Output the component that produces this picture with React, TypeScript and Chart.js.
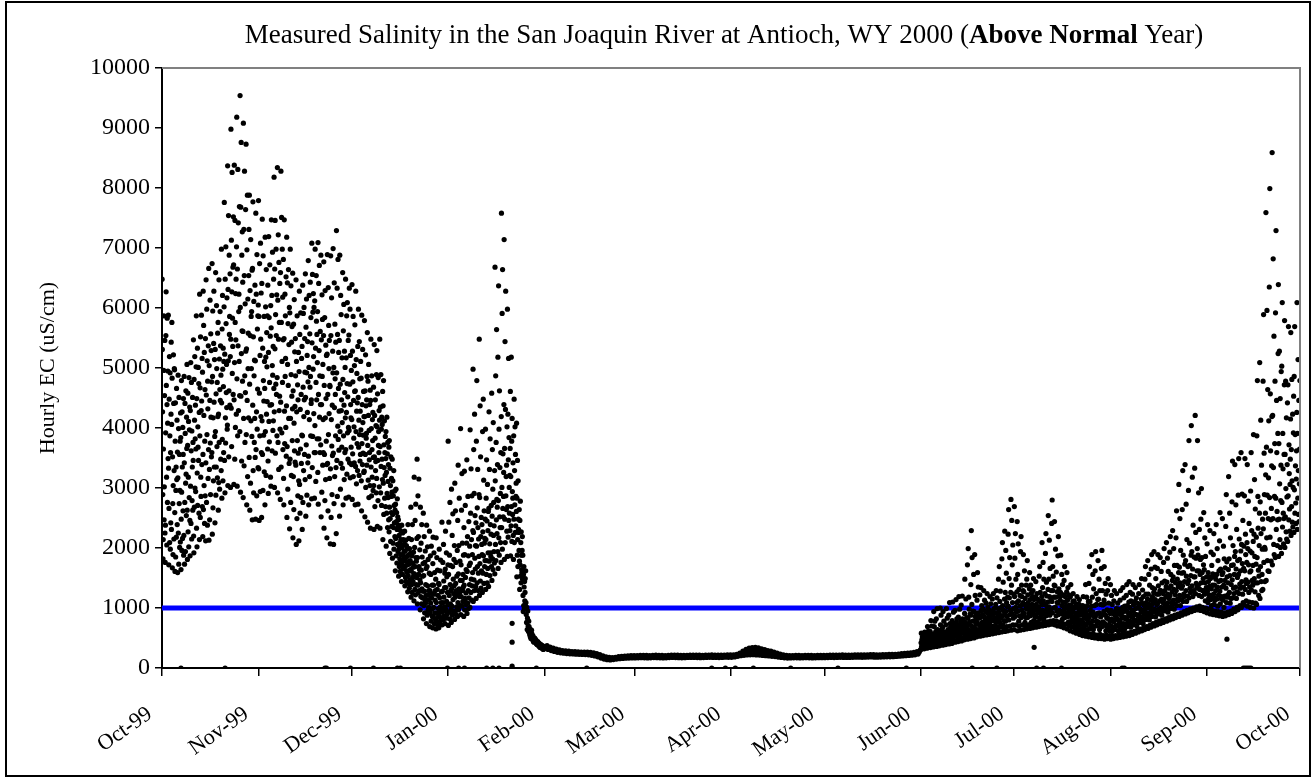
import React, { useEffect, useRef } from 'react';
import { Chart, registerables } from 'chart.js';

Chart.register(...registerables);

const FONT = "'Liberation Serif', 'Times New Roman', Times, serif";

const monthLabels = ['Oct-99', 'Nov-99', 'Dec-99', 'Jan-00', 'Feb-00', 'Mar-00', 'Apr-00', 'May-00', 'Jun-00', 'Jul-00', 'Aug-00', 'Sep-00', 'Oct-00'];
const monthLengths = [31, 30, 31, 31, 29, 31, 30, 31, 30, 31, 31, 30];

const titleStart = 'Measured Salinity in the San Joaquin River at Antioch, WY 2000 (';
const titleBold = 'Above Normal';
const titleEnd = ' Year)';
const yAxisTitle = 'Hourly EC (uS/cm)';
const yMax = 10000;
const yStep = 1000;
const standardEC = 1000;

// Readings per day (uS/cm), one inner array per day
const oct99 = [
  [6480, 5310, 4270, 2890, 1820, 2140, 3650, 4960, 5870, 2470, 3020, 4540, 5460, 2250],
  [1760, 2380, 3920, 5540, 6270, 4710, 3180, 2050, 4390, 5830, 2760, 4080, 4950, 3490],
  [5880, 3330, 1720, 2660, 4480, 5190, 2090, 3870, 4920, 1980, 3590, 2420, 4230, 5430],
  [2310, 4060, 5760, 4830, 1670, 3520, 2740, 1890, 3040, 5220, 4410, 2150, 3290, 4990],
  [4970, 2590, 1610, 3780, 4420, 1850, 2960, 3350, 2180, 4660, 3140, 4130, 2390, 3600],
  [1590, 3170, 4880, 2250, 3990, 1730, 4510, 2740, 3560, 2010, 2960, 3780, 2100, 4250],
  [3840, 1640, 2480, 4790, 2930, 1960, 4270, 3350, 2160, 4010, 2620, 3560, 4490, 1880],
  [2210, 4860, 3420, 1730, 2760, 4410, 3910, 1940, 3080, 4620, 3230, 2540, 4180, 3660],
  [5060, 2630, 1810, 3710, 4580, 2270, 3180, 4110, 2020, 4840, 2840, 3970, 4350, 2460],
  [1870, 4290, 3030, 5090, 2410, 3620, 4760, 2150, 3950, 2790, 3350, 4510, 2630, 3760],
  [3460, 5470, 2200, 1920, 4810, 2680, 4130, 5190, 3000, 3820, 4380, 2940, 3650, 5020],
  [5870, 2330, 4490, 2020, 3250, 5330, 2710, 4020, 3680, 5010, 3460, 4740, 2580, 4260],
  [2140, 6230, 3870, 4670, 2510, 5520, 3180, 2860, 4290, 5880, 4450, 3390, 5160, 2690],
  [4930, 2190, 3560, 6280, 2640, 5710, 4210, 3040, 5260, 2410, 3780, 4640, 2870, 5490],
  [2120, 3420, 6470, 4550, 2760, 5980, 3890, 5120, 2380, 4780, 4320, 3160, 5370, 3640],
  [6660, 2130, 5040, 3310, 2470, 4460, 6130, 3750, 2890, 5570, 4180, 5290, 3520, 4770],
  [3590, 6740, 2230, 4860, 5950, 2670, 4170, 3120, 5410, 6280, 4430, 3350, 5140, 3860],
  [2420, 5310, 3940, 6590, 2880, 4570, 3350, 6040, 4990, 3690, 4760, 3170, 5580, 4190],
  [5760, 2630, 4230, 3090, 6470, 3760, 5150, 2980, 4640, 5940, 4460, 5370, 3480, 4880],
  [3290, 6980, 4420, 2830, 5650, 3810, 6210, 4980, 3120, 5330, 4690, 3590, 5110, 6020],
  [7760, 3460, 5230, 2920, 6480, 4170, 3750, 7020, 5740, 4590, 5060, 4340, 6170, 3980],
  [4050, 8370, 3040, 6310, 5120, 7540, 3520, 4620, 6880, 5560, 5860, 4380, 6570, 5190],
  [3010, 5480, 8980, 4330, 7130, 3690, 6270, 8260, 4910, 5830, 5360, 6680, 4560, 7520],
  [6720, 3060, 4470, 8380, 5090, 3480, 7460, 5760, 4010, 6240, 5470, 6480, 4230, 7020],
  [9180, 4820, 3030, 6650, 3870, 8310, 5370, 7420, 4290, 5940, 6230, 5110, 7690, 4540],
  [3940, 9540, 6010, 2930, 7680, 4530, 8760, 5240, 3450, 6880, 5620, 7270, 4780, 6430],
  [5610, 2840, 9080, 4160, 7310, 3370, 6540, 8280, 4870, 3760, 6070, 4590, 7640, 5280],
  [8730, 3890, 5320, 2720, 6970, 4460, 7880, 3190, 6150, 4990, 5580, 4170, 6540, 7310],
  [3510, 7880, 4730, 2630, 6290, 5540, 3080, 7140, 4120, 5860, 4990, 5940, 3860, 6630],
  [2470, 6660, 4380, 7770, 3290, 5520, 2920, 6110, 4870, 3760, 5130, 4160, 6380, 3510],
  [5120, 2480, 7580, 3640, 6230, 4270, 2870, 6890, 3980, 5650, 4650, 5870, 3340, 6050],
];

const nov99 = [
  [7790, 3320, 5860, 2460, 4580, 6740, 3870, 5210, 2940, 7080, 5480, 4190, 6250, 3590],
  [2510, 6410, 4120, 7480, 3560, 5330, 2960, 6870, 4790, 3880, 4450, 5860, 3270, 5110],
  [4660, 2720, 7180, 3940, 6020, 5180, 3210, 6640, 4230, 5590, 5020, 4440, 5870, 3650],
  [6380, 3450, 2910, 5260, 7190, 4110, 5840, 3770, 4760, 6720, 4380, 5530, 3180, 6040],
  [3030, 5670, 7470, 4390, 6210, 3620, 5040, 6930, 4880, 3960, 5360, 4120, 6480, 4660],
  [8180, 4270, 3010, 6650, 5320, 7460, 3580, 5890, 4730, 6980, 5540, 4560, 6220, 3870],
  [4840, 8340, 2920, 6130, 3760, 7220, 5480, 3310, 6760, 4290, 5760, 4530, 6410, 3980],
  [2810, 6590, 4430, 8280, 3350, 5760, 7510, 3920, 5110, 6980, 4760, 6180, 3640, 5470],
  [6810, 3160, 2720, 5490, 7470, 4280, 3740, 6230, 4860, 5870, 5160, 4010, 6520, 3530],
  [4370, 7180, 2510, 3690, 6420, 5060, 2980, 5740, 4710, 6640, 4160, 5390, 3410, 6010],
  [2320, 5920, 3480, 6980, 4160, 2760, 6370, 4890, 3210, 5430, 4530, 5690, 3790, 4320],
  [6580, 2170, 4620, 3190, 5730, 2640, 4080, 6140, 3620, 5270, 4360, 3430, 5490, 4870],
  [3380, 6470, 2060, 5110, 4270, 2490, 5870, 3790, 4720, 2870, 4470, 3580, 5260, 3120],
  [2120, 4940, 6280, 3060, 5560, 2580, 4310, 3650, 5920, 2840, 4560, 3410, 5160, 3880],
  [5360, 2310, 3870, 6380, 2760, 4680, 5910, 3290, 4190, 6010, 4470, 3560, 5490, 4930],
  [3140, 6570, 4510, 2530, 5680, 3720, 6150, 4920, 2880, 5210, 4260, 5440, 3420, 4770],
  [6790, 3530, 2720, 5010, 6210, 4140, 3190, 5570, 4680, 6430, 4860, 3870, 5840, 4410],
  [4470, 2820, 7080, 5420, 3340, 6560, 3860, 5930, 4980, 6240, 5190, 4240, 6010, 3590],
  [2830, 6120, 4040, 6980, 3590, 5330, 3110, 4760, 6540, 5780, 4470, 5560, 3820, 5090],
  [5940, 3260, 7090, 2730, 4560, 6410, 3820, 5290, 6710, 4180, 4870, 3590, 5610, 4390],
  [3720, 6880, 2520, 5470, 4390, 2930, 6220, 4860, 5810, 3380, 5060, 4140, 3590, 5540],
  [6770, 2330, 4710, 3560, 5840, 2790, 6290, 4170, 3140, 5380, 4490, 3780, 5210, 3390],
  [2170, 5230, 6890, 3410, 4560, 2620, 6340, 3890, 5710, 4990, 4240, 5460, 3160, 4710],
  [4690, 2070, 3320, 6870, 5540, 2510, 4140, 6170, 3700, 2890, 4380, 3540, 5280, 4920],
  [6990, 3580, 2060, 5010, 2740, 6420, 4340, 3190, 5730, 4820, 4560, 3870, 5430, 3340],
  [2240, 7290, 4920, 3460, 6330, 2860, 5560, 4030, 6810, 3810, 4660, 5260, 3630, 4280],
  [5460, 2530, 6880, 3940, 4730, 2980, 6210, 3410, 5890, 4290, 4470, 3680, 5170, 4090],
  [3330, 6590, 4810, 2720, 5620, 3870, 6060, 4380, 3140, 5280, 4590, 3590, 5010, 4170],
  [6480, 3640, 2830, 5170, 4260, 5870, 3230, 4740, 6090, 3920, 4520, 3480, 5460, 4010],
  [2850, 5550, 3960, 6330, 3420, 4730, 5980, 3170, 5210, 4390, 4170, 3680, 4960, 3390],
];

const dec99 = [
  [4140, 6390, 2810, 5280, 3570, 4770, 5860, 3190, 4460, 3830, 4020, 3420, 5040, 4610],
  [5720, 2720, 4620, 3360, 6280, 3940, 5140, 3070, 4280, 4910, 3740, 4420, 3290, 5360],
  [2730, 4510, 5980, 3680, 4130, 3210, 5440, 3890, 4820, 3450, 4280, 3560, 5110, 3970],
  [4830, 3120, 2620, 5880, 3740, 4390, 3390, 5310, 4090, 3580, 3880, 4610, 3260, 4190],
  [3280, 5790, 4190, 2520, 4620, 3560, 5220, 3010, 4370, 3830, 3910, 4470, 3380, 4860],
  [5590, 2430, 3710, 4780, 3130, 4210, 5060, 2840, 3960, 3470, 3590, 4390, 3040, 4630],
  [2330, 4460, 5480, 3350, 3990, 2870, 4870, 3640, 3180, 4140, 3790, 4260, 2960, 3510],
  [4680, 3040, 2310, 5390, 3520, 4210, 2690, 3830, 4470, 3290, 3440, 4040, 2920, 4890],
  [3160, 5290, 4020, 2360, 4570, 3460, 2790, 4840, 3710, 3940, 3590, 4290, 3020, 4130],
  [5480, 2330, 3690, 4350, 2920, 4890, 3360, 3980, 2710, 4180, 3480, 4060, 3140, 4610],
  [2140, 4370, 3080, 4790, 2560, 3720, 3340, 4120, 2830, 3590, 3210, 3860, 2690, 3490],
  [3940, 2030, 3260, 2580, 4180, 2910, 3570, 2340, 3760, 3110, 2840, 3390, 2470, 3680],
  [2270, 3790, 2680, 1910, 3330, 2490, 3040, 2110, 3520, 2860, 2590, 3160, 2360, 2930],
  [3480, 1830, 2560, 3120, 2080, 2870, 2340, 3290, 1980, 2710, 2420, 2950, 2190, 2630],
  [1620, 2730, 2160, 2980, 1870, 2440, 2590, 1750, 2310, 2820, 2060, 2520, 1940, 2380],
  [2470, 1530, 1980, 2210, 1690, 2360, 1820, 2090, 1610, 2290, 1890, 2140, 1760, 2030],
  [1440, 2380, 1730, 2010, 1560, 2250, 1890, 1650, 2140, 1790, 1690, 1940, 1840, 2070],
  [2280, 1370, 1690, 1950, 1510, 2130, 1780, 1440, 2040, 1620, 1590, 1860, 1720, 1990],
  [1270, 2390, 1540, 1880, 1410, 2160, 1730, 1330, 1990, 1620, 1470, 1790, 1640, 1920],
  [2680, 1180, 1620, 2140, 1390, 1870, 1260, 2390, 1510, 1750, 1440, 1680, 1930, 1570],
  [1120, 3180, 1570, 2010, 1310, 2460, 1690, 1220, 2730, 1840, 1390, 1780, 1510, 2160],
  [3480, 1070, 1840, 1380, 2870, 1250, 2190, 1560, 3150, 1690, 1290, 1640, 1970, 1470],
  [970, 2680, 1420, 1190, 2080, 1630, 1070, 2390, 1320, 1850, 1170, 1530, 1280, 1740],
  [2580, 820, 1540, 1040, 2190, 1280, 920, 1760, 1130, 1950, 1080, 1390, 1210, 1660],
  [740, 2380, 1130, 1690, 880, 2020, 1370, 960, 1810, 1220, 1010, 1290, 1140, 1580],
  [2280, 690, 1290, 920, 1870, 1080, 1560, 780, 2030, 1170, 980, 1240, 1380, 860],
  [670, 1740, 2180, 860, 1380, 1010, 1920, 740, 1230, 1590, 920, 1130, 1290, 810],
  [1480, 650, 2170, 1090, 780, 1840, 920, 1310, 1630, 710, 850, 1210, 990, 1410],
  [670, 1390, 1980, 860, 1170, 750, 1620, 1020, 1800, 930, 810, 1090, 1270, 960],
  [2430, 720, 1280, 940, 1760, 1090, 810, 2060, 1450, 1180, 870, 1020, 1340, 1580],
  [740, 1650, 2280, 980, 1340, 830, 1920, 1110, 1520, 890, 930, 1260, 1050, 1720],
];

const jan00 = [
  [3780, 710, 1560, 2430, 930, 1210, 1880, 820, 2760, 1390, 1070, 1710, 1290, 980],
  [760, 2980, 1320, 1030, 2210, 880, 1690, 2570, 1140, 1480, 940, 1240, 1810, 1370],
  [2040, 810, 3080, 1180, 950, 2620, 1410, 1760, 890, 1290, 1020, 1530, 1240, 1960],
  [860, 2460, 1090, 3380, 1570, 970, 2040, 1320, 2830, 1190, 1260, 1780, 1040, 1460],
  [3990, 890, 1720, 1190, 2630, 1030, 3240, 1460, 2080, 1290, 1110, 1560, 1350, 1880],
  [860, 2340, 1380, 3280, 970, 1890, 1160, 2710, 1510, 1060, 1250, 1640, 1090, 2080],
  [3470, 910, 1610, 2190, 1080, 2860, 1290, 1870, 990, 2440, 1170, 1710, 1390, 2030],
  [1010, 3970, 1750, 2580, 1260, 3320, 1480, 2140, 1130, 2870, 1370, 1890, 1590, 2290],
  [4980, 1110, 2260, 3640, 1470, 2910, 1290, 4230, 1830, 2540, 1650, 2040, 1360, 2420],
  [1160, 3780, 2030, 4790, 1420, 2670, 1690, 3310, 2340, 1290, 1580, 2150, 1860, 2890],
  [5480, 1210, 2840, 1740, 4370, 1450, 3520, 2190, 1330, 2510, 1620, 2060, 2390, 1890],
  [1260, 3940, 2270, 1580, 4480, 1870, 3130, 1410, 2620, 2080, 1690, 2160, 1790, 2480],
  [3980, 1310, 2140, 2830, 1560, 3470, 1790, 2450, 1420, 3060, 1660, 2290, 1920, 2610],
  [1360, 2660, 4270, 1780, 3310, 2070, 1540, 3820, 2390, 1920, 1860, 2230, 2710, 1690],
  [4580, 1460, 2530, 3640, 1820, 2980, 1640, 4090, 2210, 2760, 1940, 2370, 1750, 3290],
  [1570, 6680, 3120, 2060, 4870, 1790, 3760, 2470, 5640, 2810, 2240, 2680, 3390, 1940],
  [5180, 1660, 2790, 6370, 2170, 3980, 1880, 4620, 2520, 3340, 2340, 2910, 2090, 3590],
  [1760, 4190, 7580, 2340, 3010, 5910, 1980, 6640, 2660, 3570, 2520, 2860, 3260, 4390],
  [7140, 1810, 3660, 2480, 5440, 2090, 4310, 6280, 2870, 3190, 2640, 3380, 2280, 4020],
  [1860, 5980, 2690, 4230, 2180, 3470, 5160, 2460, 3840, 3010, 2580, 3210, 2290, 3660],
  [4610, 1870, 3190, 2370, 5180, 2690, 3780, 2110, 4160, 2940, 2560, 2830, 3420, 2210],
  [1810, 3870, 2480, 4480, 2090, 3290, 2720, 4020, 2260, 3560, 2370, 2860, 3080, 2610],
  [4080, 1520, 2830, 1880, 3460, 2140, 1690, 3120, 2480, 2310, 2260, 1960, 2640, 1780],
  [1310, 2460, 1720, 2780, 1530, 2090, 1420, 2270, 1880, 1640, 1590, 1960, 2190, 1480],
  [1880, 1210, 940, 1560, 1040, 1690, 1350, 990, 1440, 1120, 1260, 1490, 1080, 1620],
  [1090, 890, 760, 1010, 640, 830, 950, 700, 610, 780],
  [690, 610, 560, 650, 520, 590, 490, 540, 630, 570],
  [550, 510, 470, 530, 440, 490, 430, 460, 500, 480],
  [480, 450, 420, 460, 400, 430, 390, 410, 440, 380],
  [420, 400, 370, 410, 350, 380, 340, 360, 390, 370],
  [380, 360, 330, 370, 320, 350, 310, 340, 360, 330],
];

const feb00 = [
  [328, 350, 372], [310, 331, 350], [291, 309, 330], [276, 296, 314], [262, 283, 302],
  [253, 271, 291], [246, 266, 284], [240, 259, 280], [236, 257, 275], [233, 251, 272],
  [230, 250, 269], [228, 249, 267], [226, 245, 266], [224, 244, 263], [220, 241, 259],
  [212, 232, 252], [202, 223, 241], [186, 204, 225], [165, 186, 204], [148, 169, 187],
  [138, 158, 178], [135, 155, 175], [140, 161, 179], [149, 168, 188], [155, 176, 194],
  [160, 180, 200], [164, 184, 204], [166, 187, 206], [168, 188, 208],
];

const mar00 = [
  [168, 188, 208], [170, 190, 210], [172, 193, 212], [169, 189, 209], [167, 187, 207],
  [170, 191, 210], [173, 193, 213], [171, 191, 211], [169, 189, 210], [168, 188, 208],
  [170, 190, 211], [174, 194, 214], [176, 196, 216], [173, 193, 213], [171, 191, 212],
  [170, 190, 210], [172, 192, 212], [175, 195, 215], [177, 197, 217], [175, 196, 215],
  [173, 193, 213], [172, 192, 212], [174, 194, 215], [176, 196, 216], [178, 198, 218],
  [177, 197, 217], [175, 195, 215], [174, 194, 214], [176, 196, 217], [179, 199, 219],
  [178, 198, 218],
];

const apr00 = [
  [178, 198, 218], [185, 205, 228], [195, 222, 250], [205, 245, 282], [212, 265, 310],
  [218, 282, 330], [220, 290, 342], [222, 292, 345], [218, 285, 335], [215, 272, 320],
  [210, 262, 305], [205, 252, 292], [200, 245, 280], [195, 235, 265], [190, 222, 250],
  [182, 205, 232], [175, 195, 218], [170, 190, 210], [166, 186, 206], [168, 188, 208],
  [170, 190, 210], [169, 189, 209], [167, 187, 207], [169, 189, 209], [171, 191, 211],
  [170, 190, 210], [168, 188, 208], [170, 190, 210], [172, 192, 212], [171, 191, 211],
];

const may00 = [
  [172, 192, 212], [173, 193, 213], [175, 195, 215], [174, 194, 214], [176, 196, 216],
  [178, 198, 218], [177, 197, 217], [175, 195, 215], [176, 196, 216], [178, 198, 218],
  [180, 200, 220], [179, 199, 219], [178, 198, 218], [180, 200, 220], [182, 202, 222],
  [183, 203, 223], [181, 201, 221], [180, 200, 220], [182, 202, 222], [185, 205, 225],
  [187, 207, 227], [186, 206, 226], [188, 208, 228], [192, 212, 232], [197, 218, 238],
  [201, 222, 243], [205, 226, 248], [208, 230, 252], [213, 236, 260], [220, 245, 272],
  [232, 262, 295],
];

const jun00 = [
  [310, 420, 580, 360, 470, 330, 520, 390, 345, 410, 455, 375],
  [540, 320, 410, 600, 350, 460, 380, 500, 365, 430, 395, 480],
  [330, 480, 690, 390, 560, 430, 620, 360, 410, 460, 375, 520],
  [610, 340, 450, 790, 400, 530, 700, 380, 420, 490, 560, 365],
  [350, 570, 940, 430, 690, 480, 780, 400, 450, 520, 610, 385],
  [820, 360, 510, 990, 440, 640, 560, 420, 470, 540, 600, 395],
  [370, 590, 460, 1000, 720, 520, 880, 430, 490, 560, 640, 405],
  [680, 380, 940, 480, 560, 780, 440, 530, 460, 600, 510, 420],
  [390, 720, 510, 990, 600, 460, 830, 550, 480, 640, 570, 430],
  [880, 400, 620, 1090, 470, 740, 530, 680, 500, 570, 650, 440],
  [410, 790, 560, 1100, 690, 480, 930, 620, 530, 610, 740, 450],
  [960, 430, 680, 530, 1140, 760, 590, 820, 560, 640, 710, 480],
  [440, 850, 610, 1190, 720, 520, 980, 660, 560, 690, 780, 500],
  [1050, 450, 700, 580, 1200, 820, 640, 760, 600, 720, 680, 510],
  [470, 910, 1480, 640, 760, 560, 1150, 700, 610, 840, 700, 540],
  [1720, 480, 830, 1990, 640, 1180, 730, 980, 580, 770, 900, 550],
  [490, 1390, 880, 2290, 700, 1060, 1840, 610, 640, 780, 950, 560],
  [1560, 500, 940, 680, 1890, 790, 1210, 860, 610, 740, 880, 570],
  [520, 1130, 760, 1590, 640, 920, 1350, 830, 600, 720, 870, 590],
  [1220, 530, 840, 690, 1340, 960, 610, 1040, 650, 760, 890, 600],
  [540, 980, 720, 1290, 860, 640, 1130, 780, 680, 820, 940, 610],
  [1080, 550, 810, 670, 1240, 920, 730, 1010, 600, 760, 860, 640],
  [560, 960, 730, 1190, 840, 650, 1070, 890, 690, 790, 620, 930],
  [1150, 570, 880, 700, 1240, 790, 990, 640, 660, 830, 920, 620],
  [580, 1060, 760, 1290, 920, 690, 1170, 840, 640, 800, 880, 990],
  [1480, 590, 930, 1690, 760, 1110, 680, 1280, 690, 830, 870, 1010],
  [600, 1820, 870, 2090, 1040, 720, 1430, 960, 670, 790, 880, 1150],
  [2280, 610, 1260, 780, 1960, 940, 1580, 1090, 690, 860, 1020, 1180],
  [620, 2230, 1030, 2640, 800, 1490, 1170, 1840, 700, 890, 960, 1260],
  [2810, 630, 1380, 2460, 910, 1720, 1090, 2050, 720, 830, 990, 1230],
];

const jul00 = [
  [640, 2690, 1190, 1830, 860, 2240, 1010, 1480, 720, 930, 1090, 1270],
  [2440, 620, 1560, 950, 2070, 1120, 780, 1310, 700, 870, 1030, 1210],
  [630, 1940, 1040, 2190, 840, 1380, 1190, 960, 720, 890, 1090, 1290],
  [1890, 640, 1270, 910, 1620, 1060, 760, 1160, 710, 840, 1000, 1380],
  [650, 1480, 980, 1790, 840, 1220, 1090, 720, 700, 910, 1040, 1320],
  [1590, 660, 1140, 870, 1380, 980, 760, 1250, 720, 930, 1060, 1190],
  [670, 1290, 930, 1490, 790, 1140, 1030, 880, 730, 860, 990, 1180],
  [1440, 680, 1060, 850, 1240, 960, 770, 1150, 740, 920, 1010, 1120],
  [690, 1530, 970, 1690, 820, 1260, 1110, 900, 740, 860, 1050, 1190],
  [2090, 700, 1340, 960, 1760, 1120, 820, 1480, 760, 900, 1060, 1240],
  [710, 1910, 1050, 2240, 870, 1430, 1200, 980, 770, 930, 1100, 1310],
  [2540, 720, 1480, 1020, 2130, 1190, 880, 1660, 780, 960, 1130, 1290],
  [730, 2410, 1110, 2800, 920, 1690, 1290, 1530, 790, 1000, 1180, 1380],
  [2440, 720, 1370, 1010, 1980, 1180, 870, 1600, 780, 950, 1090, 1270],
  [700, 1870, 1080, 2190, 890, 1320, 1200, 960, 760, 950, 1130, 1260],
  [1880, 690, 1210, 930, 1560, 1040, 810, 1390, 740, 890, 1100, 1220],
  [670, 1460, 980, 1690, 840, 1190, 1100, 890, 730, 920, 1040, 1270],
  [1590, 650, 1130, 860, 1340, 990, 770, 1220, 700, 920, 1050, 1180],
  [620, 1190, 890, 1390, 760, 1040, 960, 820, 680, 850, 980, 1110],
  [1240, 600, 930, 760, 1120, 850, 690, 1010, 660, 800, 890, 1070],
  [580, 1050, 810, 1190, 700, 920, 870, 740, 640, 760, 980, 1060],
  [1140, 560, 880, 720, 1030, 800, 650, 960, 610, 770, 940, 1020],
  [540, 1040, 760, 1190, 660, 890, 830, 700, 600, 730, 860, 990],
  [1390, 530, 930, 720, 1180, 820, 640, 1040, 580, 770, 880, 1110],
  [520, 1410, 840, 1690, 660, 1110, 960, 750, 570, 720, 890, 1030],
  [1890, 510, 1180, 780, 1560, 930, 640, 1320, 560, 700, 850, 1040],
  [500, 1620, 860, 1940, 700, 1240, 1060, 780, 550, 760, 910, 1140],
  [1790, 490, 1150, 760, 1480, 920, 640, 1290, 560, 690, 850, 1060],
  [490, 1660, 880, 1960, 690, 1290, 1050, 770, 540, 740, 940, 1130],
  [1690, 480, 1070, 740, 1410, 880, 620, 1230, 550, 690, 830, 970],
  [490, 1290, 830, 1490, 680, 1080, 950, 720, 540, 620, 780, 910],
];

const aug00 = [
  [1390, 480, 960, 700, 1210, 820, 610, 1060, 530, 660, 780, 910],
  [490, 1120, 770, 1290, 640, 940, 880, 690, 540, 700, 820, 990],
  [1240, 500, 890, 710, 1080, 810, 620, 980, 550, 690, 780, 930],
  [510, 1130, 760, 1290, 670, 960, 880, 720, 560, 630, 830, 1010],
  [1340, 520, 940, 740, 1170, 850, 640, 1030, 570, 700, 820, 960],
  [530, 1210, 820, 1390, 690, 1040, 930, 760, 580, 740, 870, 1100],
  [1440, 540, 1010, 780, 1260, 900, 680, 1120, 600, 730, 850, 960],
  [560, 1230, 860, 1390, 720, 1060, 970, 800, 610, 780, 900, 1110],
  [1340, 580, 990, 800, 1170, 890, 700, 1080, 630, 760, 870, 1010],
  [600, 1240, 880, 1390, 760, 1070, 990, 820, 650, 820, 930, 1150],
  [1490, 620, 1080, 850, 1300, 960, 740, 1190, 670, 800, 910, 1040],
  [640, 1480, 960, 1690, 810, 1230, 1090, 880, 690, 860, 1010, 1150],
  [1790, 660, 1230, 920, 1560, 1060, 800, 1380, 710, 870, 990, 1130],
  [680, 1650, 1040, 1890, 860, 1340, 1190, 940, 740, 930, 1090, 1260],
  [1940, 700, 1320, 980, 1680, 1140, 850, 1490, 760, 920, 1060, 1230],
  [720, 1660, 1080, 1890, 900, 1370, 1230, 980, 780, 960, 1120, 1290],
  [1840, 740, 1290, 1010, 1610, 1150, 880, 1420, 800, 960, 1090, 1240],
  [760, 1760, 1140, 1990, 950, 1450, 1290, 1040, 820, 1010, 1190, 1360],
  [2090, 780, 1430, 1080, 1830, 1230, 930, 1610, 840, 1010, 1160, 1330],
  [800, 1930, 1210, 2190, 990, 1560, 1370, 1090, 860, 1050, 1270, 1460],
  [2290, 820, 1520, 1130, 1990, 1310, 980, 1710, 880, 1070, 1220, 1420],
  [840, 2170, 1290, 2620, 1040, 1710, 1480, 1150, 900, 1120, 1360, 1590],
  [3060, 860, 1680, 1210, 2490, 1420, 1040, 1960, 920, 1140, 1330, 1580],
  [880, 2640, 1370, 3290, 1110, 1880, 1590, 1230, 940, 1190, 1440, 1730],
  [3390, 900, 1790, 1290, 2730, 1530, 1110, 2140, 960, 1200, 1410, 1690],
  [920, 2960, 1460, 3790, 1170, 2080, 1710, 1330, 980, 1260, 1540, 1880],
  [4040, 940, 1940, 1370, 3180, 1650, 1190, 2380, 1000, 1290, 1520, 1850],
  [960, 3330, 1520, 4210, 1240, 2260, 1830, 1410, 1020, 1330, 1620, 1990],
  [3790, 970, 1880, 1380, 2920, 1620, 1210, 2310, 1030, 1310, 1560, 1810],
  [960, 2480, 1420, 2990, 1190, 1840, 1590, 1290, 1010, 1290, 1490, 1720],
  [2590, 940, 1640, 1230, 2170, 1420, 1120, 1860, 1000, 1250, 1340, 1520],
];

const sep00 = [
  [920, 2070, 1280, 2390, 1090, 1590, 1440, 1160, 980, 1220, 1360, 1520],
  [2290, 900, 1490, 1140, 1930, 1320, 1040, 1710, 960, 1210, 1380, 1570],
  [890, 1890, 1230, 2240, 1060, 1520, 1380, 1130, 950, 1160, 1290, 1480],
  [2390, 880, 1560, 1150, 1990, 1350, 1030, 1790, 940, 1220, 1440, 1620],
  [870, 2120, 1280, 2590, 1070, 1650, 1460, 1160, 930, 1190, 1350, 1560],
  [2490, 860, 1590, 1130, 2030, 1380, 1010, 1820, 920, 1200, 1460, 1670],
  [870, 2360, 1330, 2890, 1090, 1770, 1520, 1180, 930, 1220, 1420, 1640],
  [3190, 890, 1820, 1260, 2580, 1540, 1080, 2170, 950, 1160, 1390, 1710],
  [910, 2770, 1470, 3450, 1170, 2040, 1720, 1330, 980, 1240, 1560, 1860],
  [3390, 940, 1940, 1350, 2720, 1650, 1160, 2310, 1010, 1270, 1510, 1790],
  [970, 2880, 1560, 3490, 1240, 2150, 1810, 1400, 1040, 1330, 1620, 1950],
  [3590, 1010, 2060, 1440, 2900, 1740, 1230, 2460, 1090, 1350, 1660, 2030],
  [1050, 2870, 1620, 3490, 1310, 2230, 1890, 1470, 1120, 1410, 1760, 2090],
  [3390, 1030, 1990, 1430, 2780, 1720, 1260, 2410, 1100, 1350, 1600, 1950],
  [1010, 2950, 1620, 3590, 1300, 2290, 1920, 1460, 1090, 1380, 1710, 2110],
  [3890, 1000, 2230, 1490, 3140, 1860, 1270, 2650, 1080, 1420, 1730, 2180],
  [1060, 3870, 1840, 4790, 1420, 2860, 2330, 1630, 1210, 1530, 2040, 2580],
  [5090, 1160, 2770, 1690, 4130, 2240, 1440, 3380, 1290, 1560, 1980, 2480],
  [1310, 4780, 2320, 5890, 1760, 3580, 2890, 2010, 1440, 1980, 2580, 3220],
  [7590, 1460, 3680, 2170, 5960, 2880, 1790, 4640, 1620, 2490, 3170, 4120],
  [1610, 6350, 2840, 7990, 2180, 4570, 3620, 2470, 1780, 2660, 3370, 4190],
  [8590, 1720, 4210, 2490, 6820, 3340, 2060, 5530, 1890, 2860, 3740, 4780],
  [1840, 5920, 2830, 7290, 2310, 4460, 3590, 2610, 2040, 2470, 3910, 5240],
  [6390, 1860, 3740, 2480, 5280, 3070, 2140, 4490, 2010, 2790, 3380, 4940],
  [1910, 5030, 2760, 6090, 2350, 3910, 3320, 2580, 2070, 2490, 3560, 4720],
  [5790, 2010, 3560, 2520, 4780, 2990, 2270, 4170, 2150, 2850, 3390, 4420],
  [2110, 4720, 2870, 5690, 2470, 3720, 3240, 2650, 2280, 3060, 3480, 4150],
  [5590, 2210, 3640, 2690, 4810, 3120, 2430, 4230, 2350, 3010, 3920, 4530],
  [2260, 4860, 2970, 5690, 2580, 3890, 3370, 2750, 2410, 3150, 3620, 4260],
  [6090, 2310, 3910, 2830, 5140, 3290, 2560, 4460, 2440, 3070, 3650, 4790],
];

// Instrument drop-outs recorded as zero (day of water year)
const zeroDays = [6.1, 20.3, 52.4, 52.9, 60.6, 68.0, 75.7, 76.7, 91.8, 95.4, 97.3, 104.4, 106.4, 108.4, 120.4, 136.6, 176.8, 181.2, 184.4, 190.2, 202.2, 217.4, 239.4, 260.6, 268.5, 281.3, 283.5, 289.3, 308.8, 309.5, 347.8, 348.4, 349.0, 349.6, 350.2];
// Isolated low readings
const outlierDays = [112.6, 112.6, 112.6, 280.5, 342.5];
const outlierValues = [30, 430, 745, 345, 480];

const allMonths = [oct99, nov99, dec99, jan00, feb00, mar00, apr00, may00, jun00, jul00, aug00, sep00];

function monthStarts(): number[] {
  const s = [0];
  monthLengths.forEach((l) => s.push(s[s.length - 1] + l));
  return s;
}

function hourlyPoints() {
  const pts: { x: number; y: number }[] = [];
  let day = 0;
  for (const month of allMonths) {
    for (const readings of month) {
      readings.forEach((v, i) => pts.push({ x: day + (i + 0.5) / readings.length, y: v }));
      day++;
    }
  }
  zeroDays.forEach((d) => pts.push({ x: d, y: 0 }));
  outlierDays.forEach((d, i) => pts.push({ x: d, y: outlierValues[i] }));
  return pts;
}

const TICKS = monthStarts();

const decorPlugin = {
  id: 'decor',
  beforeDraw(chart: any) {
    const { ctx, width, height } = chart;
    ctx.save();
    ctx.fillStyle = '#ffffff';
    ctx.fillRect(0, 0, width, height);
    ctx.restore();
  },
  afterDraw(chart: any) {
    const { ctx, chartArea: a, scales } = chart;
    ctx.save();
    ctx.strokeStyle = '#808080';
    ctx.lineWidth = 2;
    ctx.beginPath();
    ctx.moveTo(a.left, a.top);
    ctx.lineTo(a.right, a.top);
    ctx.lineTo(a.right, a.bottom);
    ctx.stroke();
    ctx.strokeStyle = '#000000';
    ctx.lineWidth = 2;
    ctx.strokeRect(6, 2, 1304, 774);
    ctx.fillStyle = '#000000';
    ctx.textAlign = 'left';
    ctx.textBaseline = 'alphabetic';
    const fN = `27px ${FONT}`;
    const fB = `bold 27px ${FONT}`;
    ctx.font = fN;
    const w1 = ctx.measureText(titleStart).width;
    const w3 = ctx.measureText(titleEnd).width;
    ctx.font = fB;
    const w2 = ctx.measureText(titleBold).width;
    const x0 = 724 - (w1 + w2 + w3) / 2;
    ctx.font = fN;
    ctx.fillText(titleStart, x0, 43);
    ctx.font = fB;
    ctx.fillText(titleBold, x0 + w1, 43);
    ctx.font = fN;
    ctx.fillText(titleEnd, x0 + w1 + w2, 43);
    ctx.save();
    ctx.translate(48, (a.top + a.bottom) / 2);
    ctx.rotate(-Math.PI / 2);
    ctx.textAlign = 'center';
    ctx.textBaseline = 'middle';
    ctx.font = `22px ${FONT}`;
    ctx.fillText(yAxisTitle, 0, 0);
    ctx.restore();
    const xs = scales.x;
    ctx.font = `22px ${FONT}`;
    ctx.textAlign = 'right';
    ctx.textBaseline = 'middle';
    TICKS.forEach((v, i) => {
      const px = xs.getPixelForValue(v);
      ctx.save();
      ctx.translate(px - 12, a.bottom + 44);
      ctx.rotate((-35 * Math.PI) / 180);
      ctx.fillText(monthLabels[i], 0, 0);
      ctx.restore();
    });
    ctx.restore();
  },
};

export default function App() {
  const ref = useRef<HTMLCanvasElement | null>(null);
  useEffect(() => {
    if (!ref.current) return;
    const chart = new Chart(ref.current, {
      type: 'scatter',
      data: {
        datasets: [
          {
            label: 'Hourly EC',
            data: hourlyPoints(),
            pointRadius: 2.6,
            pointHoverRadius: 2.6,
            pointBackgroundColor: '#000000',
            pointBorderWidth: 0,
            pointBorderColor: '#000000',
            showLine: false,
            order: 0,
          },
          {
            type: 'line',
            label: 'Standard',
            data: [
              { x: 0, y: standardEC },
              { x: TICKS[TICKS.length - 1], y: standardEC },
            ],
            borderColor: '#0000ff',
            borderWidth: 5,
            pointRadius: 0,
            order: 1,
          } as any,
        ],
      },
      options: {
        animation: false,
        responsive: false,
        events: [],
        layout: { padding: { top: 68, right: 16, left: 0, bottom: 0 } },
        plugins: {
          legend: { display: false },
          tooltip: { enabled: false },
          title: { display: false },
        },
        scales: {
          x: {
            type: 'linear',
            min: 0,
            max: TICKS[TICKS.length - 1],
            afterBuildTicks: (s: any) => {
              s.ticks = TICKS.map((v) => ({ value: v }));
            },
            afterFit: (s: any) => {
              s.height = 110;
            },
            ticks: { display: false },
            grid: { drawOnChartArea: false, drawTicks: true, tickLength: 8, color: '#000000', lineWidth: 1.5 },
            border: { display: true, color: '#000000', width: 2 },
          },
          y: {
            type: 'linear',
            min: 0,
            max: yMax,
            afterFit: (s: any) => {
              s.width = 162;
            },
            ticks: {
              stepSize: yStep,
              color: '#000000',
              padding: 5,
              font: { family: FONT, size: 24 },
              callback: (v: any) => String(v),
            },
            grid: { drawOnChartArea: false, drawTicks: true, tickLength: 7, color: '#000000', lineWidth: 1.5 },
            border: { display: true, color: '#000000', width: 2 },
          },
        },
      },
      plugins: [decorPlugin],
    } as any);
    return () => chart.destroy();
  }, []);
  return (
    <div style={{ position: 'fixed', left: 0, top: 0, width: 1316, height: 778, background: '#fff' }}>
      <canvas ref={ref} width={1316} height={778} style={{ display: 'block' }} />
    </div>
  );
}
